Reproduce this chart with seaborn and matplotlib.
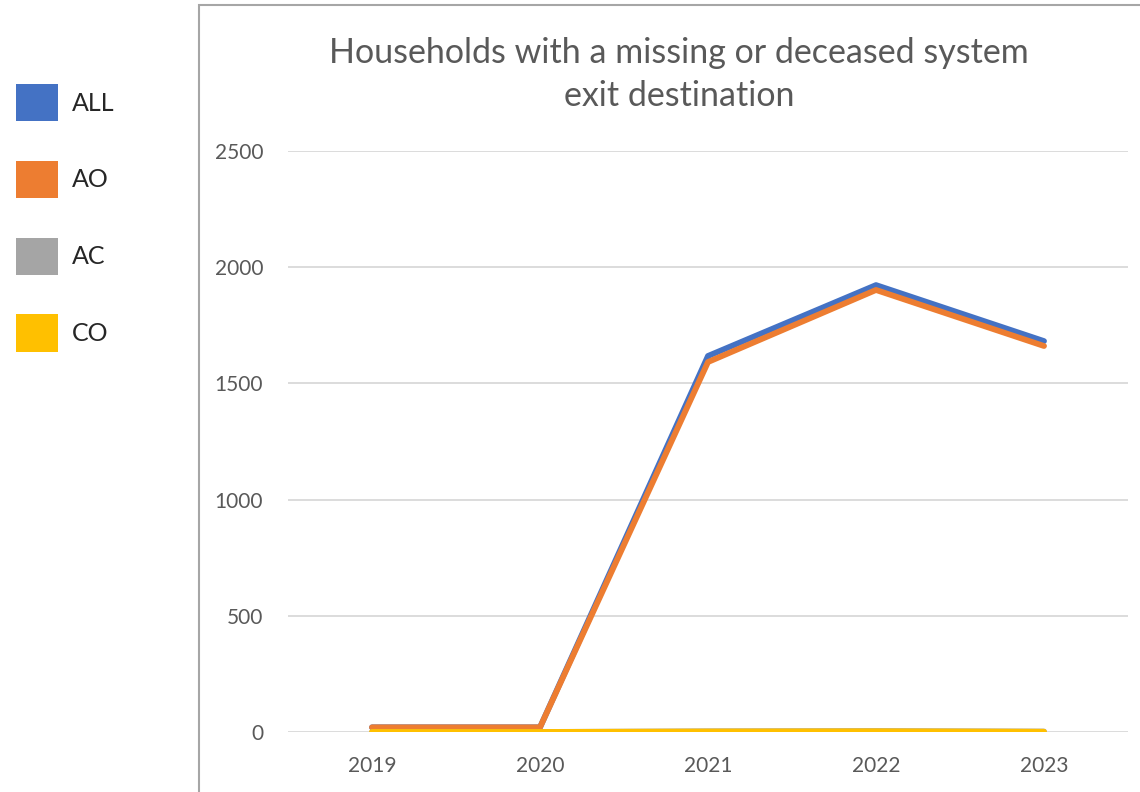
import numpy as np
import pandas as pd
import matplotlib.pyplot as plt
import seaborn as sns
from matplotlib.patches import Patch, Rectangle

years = [2019, 2020, 2021, 2022, 2023]
series_names = ["ALL", "AO", "AC", "CO"]
all_vals = [20, 20, 1618, 1923, 1682]
ao_vals = [20, 20, 1592, 1902, 1661]
ac_vals = [0, 0, 3, 4, 2]
co_vals = [0, 0, 2, 3, 1]
colors = ["#4472C4", "#ED7D31", "#A5A5A5", "#FFC000"]

df = pd.DataFrame({
    "year": years * 4,
    "value": all_vals + ao_vals + ac_vals + co_vals,
    "group": [n for n in series_names for _ in years],
})

sns.set_style("white")
plt.rcParams["font.family"] = ["Lato", "DejaVu Sans"]

fig = plt.figure(figsize=(11.4, 7.92), dpi=100)
ax = fig.add_axes([288 / 1140, 60 / 792, 840 / 1140, 581 / 792])

sns.lineplot(data=df, x="year", y="value", hue="group", hue_order=series_names,
             palette=colors, linewidth=4.2, legend=False, ax=ax,
             solid_capstyle="round", solid_joinstyle="round")

ax.set_xlim(2018.5, 2023.5)
ax.set_ylim(0, 2500)
ax.set_xticks(years)
ax.set_xticklabels([str(y) for y in years])
ax.set_yticks(range(0, 2501, 500))
ax.grid(axis="y", color="#D9D9D9", linewidth=1.3)
ax.set_axisbelow(True)
for s in ax.spines.values():
    s.set_visible(False)
ax.tick_params(axis="both", length=0, labelsize=15, labelcolor="#595959")
ax.tick_params(axis="x", pad=17)
ax.tick_params(axis="y", pad=18)
ax.set_xlabel("")
ax.set_ylabel("")

fig.text(679 / 1140, 1 - 74.5 / 792,
         "Households with a missing or deceased system\nexit destination",
         ha="center", va="center", fontsize=24.5, color="#595959", linespacing=1.45)

# chart area border
fig.add_artist(Rectangle((199 / 1140, -0.05), 1.0, 1 - 5 / 792 + 0.05,
                         transform=fig.transFigure, fill=False,
                         edgecolor="#A6A6A6", linewidth=1.5))

handles = [Patch(facecolor=c, edgecolor="none") for c in colors]
fig.legend(handles, series_names, loc="upper left", bbox_to_anchor=(16 / 1140, 1 - 84 / 792),
           frameon=False, fontsize=18, handlelength=1.7, handleheight=1.92,
           labelspacing=1.58, handletextpad=0.55, borderpad=0, borderaxespad=0)

fig.savefig("out.png", dpi=100)
